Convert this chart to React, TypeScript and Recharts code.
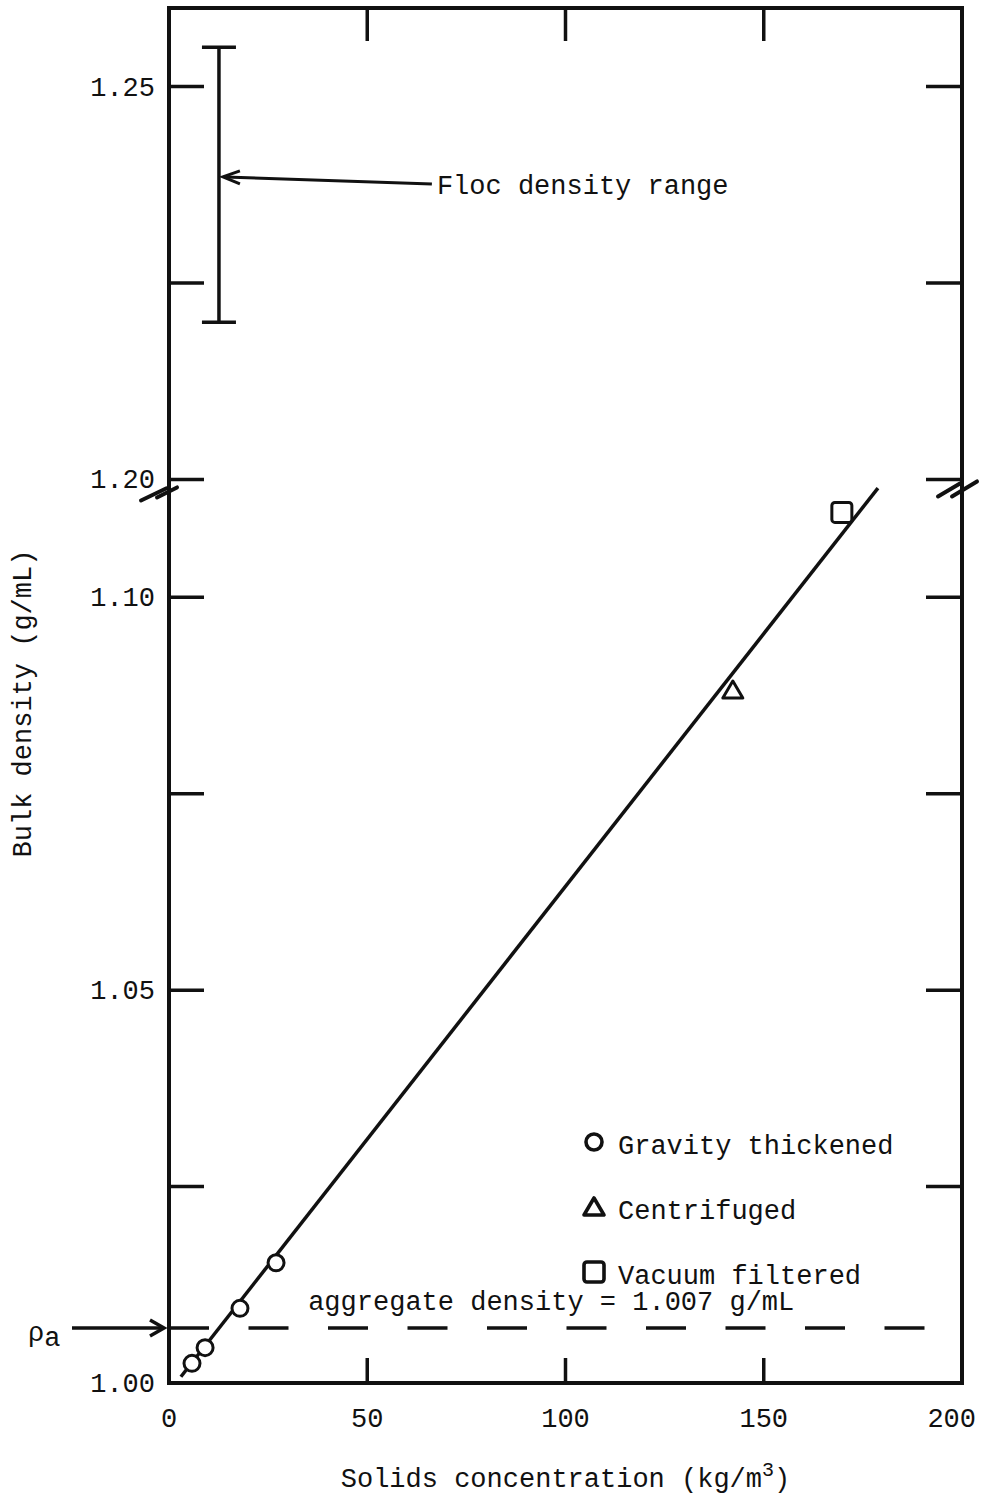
// Bulk density vs. solids concentration, with a broken density axis
import { ScatterChart, Scatter, XAxis, YAxis, ReferenceLine, ErrorBar, Legend } from "recharts";

const FONT = '"Liberation Mono", "DejaVu Sans Mono", monospace';
const INK = "#111";

// values above BREAK_FROM are pulled down by BREAK_GAP so 1.10 -> 1.20 is skipped
const BREAK_FROM = 1.15;
const BREAK_GAP = 0.085;
const toAxis = (v: number) => (v >= BREAK_FROM ? v - BREAK_GAP : v);
const fromAxis = (v: number) => (v > 1.11 ? v + BREAK_GAP : v);

const gravityX = [5.8, 9.1, 17.9, 27.0];
const gravityY = [1.0025, 1.0045, 1.0095, 1.0153];
const centrifugedX = [142.2];
const centrifugedY = [1.0882];
const vacuumX = [169.7];
const vacuumY = [1.1108];
const fitX = [3.0, 178.8];
const fitY = [1.0008, 1.1139];
const flocX = 12.6;
const flocRange = [1.22, 1.255];
const flocArrowX = [66.3, 13.6];
const flocArrowY = [1.2376, 1.2385];
const aggregateDensity = 1.007;

const xTicks = [0, 50, 100, 150, 200];
const xInnerTicks = [50, 100, 150];
const yTicks = [1.0, 1.025, 1.05, 1.075, 1.1, 1.2, 1.225, 1.25];
const yLabelled = [1.0, 1.05, 1.1, 1.2, 1.25];
const yBreakAt = 1.2;
const legendOrder = ["Gravity thickened", "Centrifuged", "Vacuum filtered"];

const pts = (xs: number[], ys: number[]) => xs.map((x, i) => ({ x, y: toAxis(ys[i]) }));
const gravity = pts(gravityX, gravityY);
const centrifuged = pts(centrifugedX, centrifugedY);
const vacuum = pts(vacuumX, vacuumY);
const fitLine = pts(fitX, fitY);
const floc = [{ x: flocX, y: toAxis((flocRange[0] + flocRange[1]) / 2), err: (flocRange[1] - flocRange[0]) / 2 }];

const near = (a: number, b: number) => Math.abs(a - b) < 1e-6;
const W = 3.5;

const CircleMark = ({ cx, cy, sw = 3 }: any) => (
  <circle cx={cx} cy={cy} r={8} fill="#fff" stroke={INK} strokeWidth={sw} />
);
const TriangleMark = ({ cx, cy, sw = 3 }: any) => (
  <path d={`M${cx},${cy - 9} L${cx + 10},${cy + 8} L${cx - 10},${cy + 8} Z`} fill="#fff" stroke={INK} strokeWidth={sw} strokeLinejoin="round" />
);
const SquareMark = ({ cx, cy, sw = 3 }: any) => (
  <rect x={cx - 10} y={cy - 10} width={20} height={20} rx={3} fill="#fff" stroke={INK} strokeWidth={sw} />
);
const NoMark = () => <g />;

const markers: Record<string, any> = {
  "Gravity thickened": CircleMark,
  Centrifuged: TriangleMark,
  "Vacuum filtered": SquareMark,
};

const txt = { fontFamily: FONT, fontSize: 27, fill: INK } as const;

function BottomTick({ x, y, payload }: any) {
  const v = payload.value;
  const last = v === xTicks[xTicks.length - 1];
  return (
    <g>
      {xInnerTicks.includes(v) && <line x1={x} y1={y} x2={x} y2={y - 25} stroke={INK} strokeWidth={W} />}
      <text x={last ? x + 14 : x} y={y + 44} textAnchor={last ? "end" : "middle"} {...txt}>{v}</text>
    </g>
  );
}

function TopTick({ x, y, payload }: any) {
  if (!xInnerTicks.includes(payload.value)) return <g />;
  return <line x1={x} y1={y} x2={x} y2={y + 33} stroke={INK} strokeWidth={W} />;
}

function LeftTick({ x, y, payload }: any) {
  const v = fromAxis(payload.value);
  if (near(v, aggregateDensity)) {
    // rho_a pointer from outside the frame
    return (
      <g>
        <line x1={x - 97} y1={y} x2={x - 6} y2={y} stroke={INK} strokeWidth={W} />
        <polyline points={`${x - 19},${y - 8} ${x - 5},${y} ${x - 19},${y + 8}`} fill="none" stroke={INK} strokeWidth={W} />
        <text x={x - 141} y={y + 13} {...txt}>
          ρ<tspan dy={5}>a</tspan>
        </text>
      </g>
    );
  }
  const label = yLabelled.find((l) => near(l, v));
  return (
    <g>
      {v > 1.0 && <line x1={x} y1={y} x2={x + 35} y2={y} stroke={INK} strokeWidth={W} />}
      {near(v, yBreakAt) && (
        <g stroke={INK} strokeWidth={4} strokeLinecap="round">
          <line x1={x - 28} y1={y + 21} x2={x - 3} y2={y + 9} />
          <line x1={x - 12} y1={y + 18} x2={x + 8} y2={y + 8} />
        </g>
      )}
      {label !== undefined && (
        <text x={x - 14} y={y + 9} textAnchor="end" {...txt}>{label.toFixed(2)}</text>
      )}
    </g>
  );
}

function RightTick({ x, y, payload }: any) {
  const v = fromAxis(payload.value);
  return (
    <g>
      <line x1={x} y1={y} x2={x - 36} y2={y} stroke={INK} strokeWidth={W} />
      {near(v, yBreakAt) && (
        <g stroke={INK} strokeWidth={4} strokeLinecap="round">
          <line x1={x - 24} y1={y + 17} x2={x - 2} y2={y + 4} />
          <line x1={x - 10} y1={y + 17} x2={x + 15} y2={y + 2} />
        </g>
      )}
    </g>
  );
}

function FlocArrow({ x1, y1, x2, y2 }: any) {
  return (
    <g>
      <line x1={x1} y1={y1} x2={x2 + 2} y2={y2} stroke={INK} strokeWidth={3} />
      <polyline points={`${x2 + 17},${y2 - 6} ${x2},${y2} ${x2 + 17},${y2 + 7}`} fill="none" stroke={INK} strokeWidth={3} />
      <text x={x1 + 5} y={y1 + 10} {...txt}>Floc density range</text>
    </g>
  );
}

function LegendBox({ payload }: any) {
  const entries = (payload || [])
    .filter((e: any) => legendOrder.includes(e.value))
    .sort((a: any, b: any) => legendOrder.indexOf(a.value) - legendOrder.indexOf(b.value));
  return (
    <svg width={320} height={190}>
      {entries.map((entry: any, i: number) => {
        const Mark = markers[entry.value] || NoMark;
        const cy = 32 + i * 65;
        return (
          <g key={entry.value}>
            <Mark cx={14} cy={cy} sw={3.6} />
            <text x={38} y={cy + 12} {...txt}>{entry.value}</text>
          </g>
        );
      })}
    </svg>
  );
}

export default function App() {
  const axisLine = { stroke: INK, strokeWidth: 4, strokeLinecap: "square" as const };
  return (
    <div style={{ position: "absolute", left: 0, top: 0, background: "#fff" }}>
      <ScatterChart width={983} height={1498} margin={{ top: 7, right: 20, bottom: 114, left: 168 }}>
        <XAxis xAxisId="b" type="number" dataKey="x" domain={[0, 200]} ticks={xTicks} interval={0} allowDataOverflow
          height={1} tickSize={0} tickMargin={0} tickLine={false} axisLine={axisLine} tick={BottomTick}
          label={{
            content: ({ viewBox }: any) => (
              <text x={viewBox.x + viewBox.width / 2} y={viewBox.y + 104} textAnchor="middle" {...txt}>
                Solids concentration (kg/m<tspan dy={-11} fontSize={20}>3</tspan><tspan dy={11}>)</tspan>
              </text>
            ),
          }}
        />
        <XAxis xAxisId="t" orientation="top" type="number" dataKey="x" domain={[0, 200]} ticks={xTicks} interval={0} allowDataOverflow
          height={1} tickSize={0} tickMargin={0} tickLine={false} axisLine={axisLine} tick={TopTick} />
        <YAxis yAxisId="l" type="number" dataKey="y" domain={[1.0, 1.175]} ticks={[...yTicks, aggregateDensity].map(toAxis)} interval={0} allowDataOverflow
          width={1} tickSize={0} tickMargin={0} tickLine={false} axisLine={axisLine} tick={LeftTick}
          label={{
            content: ({ viewBox }: any) => {
              const cx = viewBox.x - 144;
              const cy = viewBox.y + viewBox.height / 2 + 8;
              return (
                <text x={cx} y={cy} transform={`rotate(-90 ${cx} ${cy})`} textAnchor="middle" dominantBaseline="central" {...txt}>
                  Bulk density (g/mL)
                </text>
              );
            },
          }}
        />
        <YAxis yAxisId="r" orientation="right" type="number" dataKey="y" domain={[1.0, 1.175]} ticks={yTicks.slice(1).map(toAxis)} interval={0} allowDataOverflow
          width={1} tickSize={0} tickMargin={0} tickLine={false} axisLine={axisLine} tick={RightTick} />

        <ReferenceLine xAxisId="b" yAxisId="l" y={toAxis(aggregateDensity)} stroke={INK} strokeWidth={W} strokeDasharray="40 39.5"
          label={{
            content: ({ viewBox }: any) => (
              <text x={viewBox.x + viewBox.width * 0.482} y={viewBox.y - 18} textAnchor="middle" {...txt}>
                {`aggregate density = ${aggregateDensity.toFixed(3)} g/mL`}
              </text>
            ),
          }}
        />
        <ReferenceLine xAxisId="b" yAxisId="l"
          segment={flocArrowX.map((x, i) => ({ x, y: toAxis(flocArrowY[i]) }))}
          shape={FlocArrow} />

        <Scatter xAxisId="b" yAxisId="l" name="fit" data={fitLine} line={{ stroke: INK, strokeWidth: 3.5 }} shape={NoMark} legendType="none" isAnimationActive={false} />
        <Scatter xAxisId="b" yAxisId="l" name="floc" data={floc} shape={NoMark} legendType="none" isAnimationActive={false}>
          <ErrorBar dataKey="err" direction="y" width={17} stroke={INK} strokeWidth={W} isAnimationActive={false} />
        </Scatter>
        <Scatter xAxisId="b" yAxisId="l" name="Gravity thickened" data={gravity} shape={CircleMark} isAnimationActive={false} />
        <Scatter xAxisId="b" yAxisId="l" name="Centrifuged" data={centrifuged} shape={TriangleMark} isAnimationActive={false} />
        <Scatter xAxisId="b" yAxisId="l" name="Vacuum filtered" data={vacuum} shape={SquareMark} isAnimationActive={false} />

        <Legend layout="vertical" align="center" verticalAlign="middle" width={320} height={190}
          wrapperStyle={{ left: 580, top: 1110 }} content={LegendBox} />
      </ScatterChart>
    </div>
  );
}
